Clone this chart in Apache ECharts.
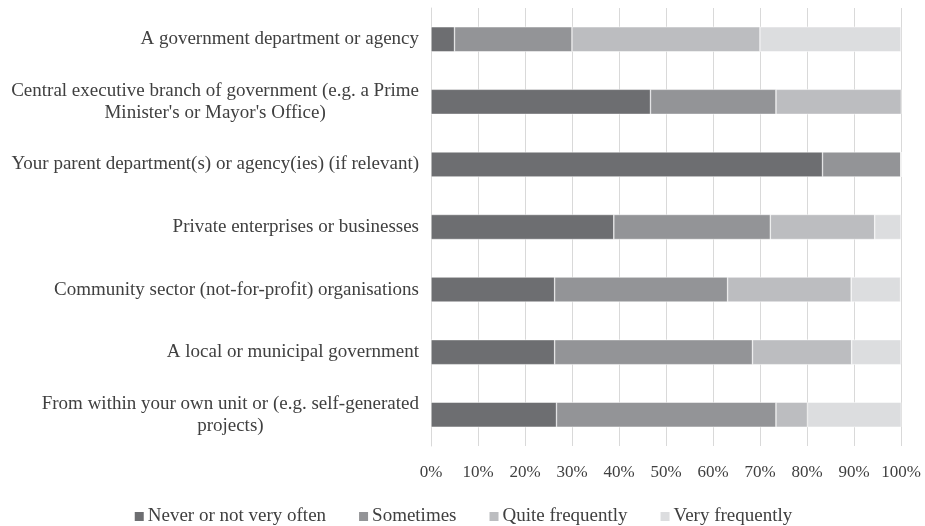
<!DOCTYPE html>
<html>
<head>
<meta charset="utf-8">
<script src="https://cdn.jsdelivr.net/npm/echarts@6/dist/echarts.min.js"></script>
<style>
    html, body { margin: 0; padding: 0; background: #fff; }
    #main { width: 925px; height: 526px; }
</style>
</head>
<body>
<div id="main"></div>
<script>
// categories, bottom to top (category axis draws first item at the bottom)
var categories = [
    "From within your own unit or (e.g. self-generated\nprojects)",
    "A local or municipal government",
    "Community sector (not-for-profit) organisations",
    "Private enterprises or businesses",
    "Your parent department(s) or agency(ies) (if relevant)",
    "Central executive branch of government (e.g. a Prime\nMinister's or Mayor's Office)",
    "A government department or agency"
];

var seriesNames = ['Never or not very often', 'Sometimes', 'Quite frequently', 'Very frequently'];

var never = [26.7, 26.3, 26.3, 38.9, 83.3, 46.7, 5];
var sometimes = [46.7, 42.1, 36.8, 33.3, 16.7, 26.7, 25];
var quite = [6.7, 21.1, 26.3, 22.2, 0, 26.7, 40];
var very = [20, 10.5, 10.5, 5.6, 0, 0, 30];

var xTicks = [0, 10, 20, 30, 40, 50, 60, 70, 80, 90, 100];

var colors = ['#6d6e71', '#939497', '#bcbdc0', '#dcdddf'];
var font = "'Liberation Serif', 'DejaVu Serif', serif";

function makeSeries(name, data) {
    return {
        name: name,
        type: 'bar',
        stack: 'total',
        barWidth: '40%',
        data: data,
        itemStyle: {
            borderColor: '#fff',
            borderWidth: 0.5
        }
    };
}

var chart = echarts.init(document.getElementById('main'));
var option = {
    color: colors,
    animation: false,
    textStyle: { fontFamily: font },
    grid: {
        left: 431,
        right: 24,
        top: 8,
        bottom: 80
    },
    legend: {
        data: seriesNames,
        top: 502,
        left: 'center',
        icon: 'rect',
        itemWidth: 11,
        itemHeight: 11,
        itemGap: 31,
        textStyle: {
            fontFamily: font,
            fontSize: 19,
            color: '#404040',
            padding: [0, 0, 0, -2]
        }
    },
    xAxis: {
        type: 'value',
        min: 0,
        max: 100,
        interval: 10,
        axisLine: { show: false },
        axisTick: { show: false },
        splitLine: { lineStyle: { color: '#d9d9d9', width: 1 } },
        axisLabel: {
            margin: 18,
            fontFamily: font,
            fontSize: 17,
            color: '#404040',
            formatter: function (v) {
                return xTicks.indexOf(v) >= 0 ? v + '%' : '';
            }
        }
    },
    yAxis: {
        type: 'category',
        data: categories,
        axisLine: { show: true, lineStyle: { color: '#d9d9d9' } },
        axisTick: { show: false },
        axisLabel: {
            margin: 12,
            fontFamily: font,
            fontSize: 19,
            color: '#404040',
            lineHeight: 22,
            formatter: function (v) {
                return v.split('\n').map(function (s) { return '{c|' + s + '}'; }).join('\n');
            },
            rich: {
                c: {
                    align: 'center',
                    fontFamily: font,
                    fontSize: 19,
                    color: '#404040',
                    lineHeight: 22
                }
            }
        }
    },
    series: [
        makeSeries(seriesNames[0], never),
        makeSeries(seriesNames[1], sometimes),
        makeSeries(seriesNames[2], quite),
        makeSeries(seriesNames[3], very)
    ]
};
chart.setOption(option);
</script>
</body>
</html>
